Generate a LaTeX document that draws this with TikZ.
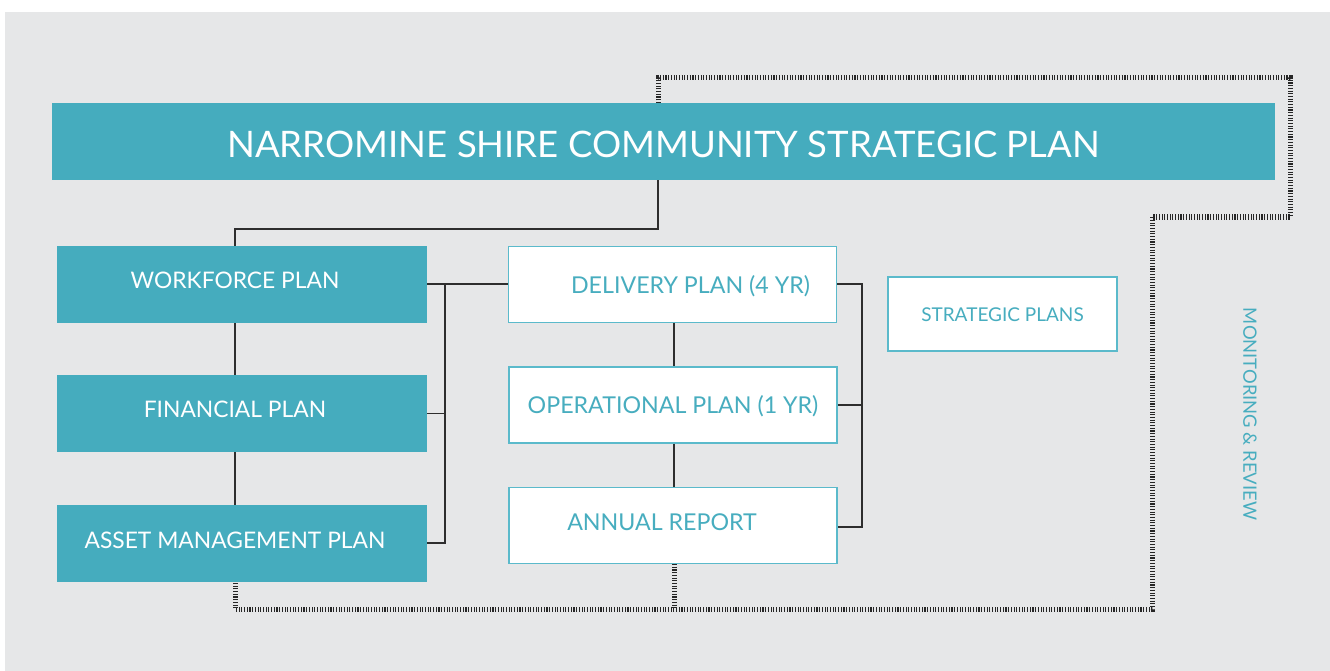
\documentclass[tikz,border=0pt]{standalone}
\usepackage{fontspec}
\setmainfont{Lato}
\usetikzlibrary{positioning}
\definecolor{teal}{HTML}{45ACBE}
\definecolor{tealline}{HTML}{5BBACB}
\definecolor{tealtext}{HTML}{47ADBF}
\definecolor{panel}{HTML}{E6E7E8}
\definecolor{wire}{HTML}{2E2E2E}
% place a label with its baseline a given distance below the node centre
\newcommand{\drop}[2]{\raisebox{-#1}[0pt][0pt]{#2}}
\tikzset{
  solidbox/.style={draw=none, fill=teal, text=white, minimum width=370pt, minimum height=77pt, font=\fontsize{22.8}{26}\selectfont, inner sep=0pt},
  openbox/.style={draw=tealline, line width=1.5pt, fill=white, text=tealtext, minimum width=328pt, minimum height=76pt, font=\fontsize{23.2}{27}\selectfont, inner sep=0pt},
  link/.style={draw=wire, line width=1.2pt},
  hatch/.style={draw=black!85, line width=5pt, dash pattern=on 1.1pt off 1.6pt},
}
\begin{document}
\begin{tikzpicture}[x=1pt,y=-1pt]
  \useasboundingbox (0,0) rectangle (1330,671);
  \fill[panel] (5,12) rectangle (1330,671);

  % monitoring and review loop
  \coordinate (m1) at (658,103);
  \coordinate (m2) at (658,78);
  \coordinate (m3) at (1290,78);
  \coordinate (m4) at (1290,217);
  \coordinate (m5) at (1152,217);
  \coordinate (m6) at (1152,609);
  \coordinate (m7) at (235,609);
  \coordinate (m8) at (235,582);
  \coordinate (m9) at (674,564);
  \coordinate (m10) at (674,609);
  \draw[hatch] (m1) -- (m2) -- (m3) -- (m4) -- (m5) -- (m6) -- (m7) -- (m8);
  \draw[hatch] (m9) -- (m10);

  % banner
  \node[fill=teal, text=white, minimum width=1223pt, minimum height=77pt, inner sep=0pt,
        font=\fontsize{36.5}{42}\selectfont] (csp) at (663.5,141.5) {\drop{16.5pt}{NARROMINE SHIRE COMMUNITY STRATEGIC PLAN}};

  % resourcing strategy
  \node[solidbox] (wf) at (242,284.5) {\hspace*{-14pt}\drop{3.7pt}{WORKFORCE PLAN}};
  \node[solidbox] (fin) at (242,413.5) {\hspace*{-14pt}\drop{3.7pt}{FINANCIAL PLAN}};
  \node[solidbox] (asset) at (242,543.5) {\hspace*{-14pt}\drop{4.7pt}{ASSET MANAGEMENT PLAN}};

  % delivery chain
  \node[openbox] (dp) at (672.5,284.5) {\hspace*{36pt}\drop{8.8pt}{DELIVERY PLAN (4 YR)}};
  \node[openbox] (op) at (673,405) {\drop{8.3pt}{OPERATIONAL PLAN (1 YR)}};
  \node[openbox] (ar) at (673,525.5) {\drop{4.8pt}{ANNUAL REPORT}\hspace*{22pt}};

  \node[draw=tealline, line width=1.5pt, fill=white, text=tealtext, minimum width=229pt, minimum height=74pt,
        inner sep=0pt, font=\fontsize{19}{22}\selectfont] (sp) at (1002.5,314) {\drop{7.8pt}{STRATEGIC PLANS}};

  \node[rotate=-90, text=tealtext, font=\fontsize{18.4}{22}\selectfont] (mr) at (1250,414) {MONITORING \& REVIEW};

  % connectors
  \coordinate (j1) at (658,229);
  \coordinate (j2) at (235,229);
  \draw[link] (csp.south -| j1) -- (j1) -- (j2) -- (j2 |- wf.north);
  \draw[link] (wf.south -| j2) -- (fin.north -| j2);
  \draw[link] (fin.south -| j2) -- (asset.north -| j2);

  \coordinate (b1) at (445,284);
  \coordinate (b2) at (445,543);
  \draw[link] (wf.east |- b1) -- (dp.west |- b1);
  \draw[link] (b1) -- (b2) -- (asset.east |- b2);
  \draw[link] (fin.east) -- (fin.east -| b1);

  \coordinate (c1) at (862,284);
  \coordinate (c2) at (862,527);
  \draw[link] (dp.east |- c1) -- (c1) -- (c2) -- (ar.east |- c2);
  \draw[link] (op.east) -- (op.east -| c1);

  \coordinate (v) at (674,405);
  \draw[link] (dp.south -| v) -- (op.north -| v);
  \draw[link] (op.south -| v) -- (ar.north -| v);
\end{tikzpicture}
\end{document}
